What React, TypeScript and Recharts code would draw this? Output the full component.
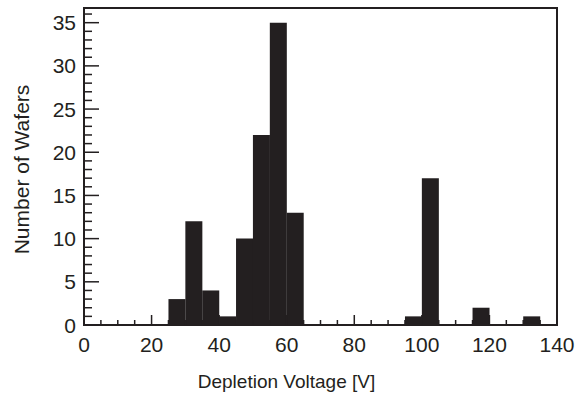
import React from 'react';
import { BarChart, Bar, XAxis, YAxis, ReferenceArea } from 'recharts';

// Histogram bins (lower edges, V) and counts of wafers
const binLowerEdges = [0, 5, 10, 15, 20, 25, 30, 35, 40, 45, 50, 55, 60, 65, 70, 75, 80, 85, 90, 95, 100, 105, 110, 115, 120, 125, 130, 135];
const binWidth = 5;
const wafers = [0, 0, 0, 0, 0, 3, 12, 4, 1, 10, 22, 35, 13, 0, 0, 0, 0, 0, 0, 1, 17, 0, 0, 2, 0, 0, 1, 0];

const xTicks = [0, 5, 10, 15, 20, 25, 30, 35, 40, 45, 50, 55, 60, 65, 70, 75, 80, 85, 90, 95, 100, 105, 110, 115, 120, 125, 130, 135, 140];
const xLabeled = [0, 20, 40, 60, 80, 100, 120, 140];
const yTicks = [0, 1, 2, 3, 4, 5, 6, 7, 8, 9, 10, 11, 12, 13, 14, 15, 16, 17, 18, 19, 20, 21, 22, 23, 24, 25, 26, 27, 28, 29, 30, 31, 32, 33, 34, 35, 36];
const yLabeled = [0, 5, 10, 15, 20, 25, 30, 35];

const xDomain: [number, number] = [0, 140];
const yDomain: [number, number] = [0, 36.7];

const data = binLowerEdges.map((lo, i) => ({ v: lo + binWidth / 2, n: wafers[i] }));

const INK = '#231f20';
const FONT = '"Liberation Sans", Arial, Helvetica, sans-serif';

const XTick = (props: any) => {
  const { x, y, payload } = props;
  const major = xLabeled.includes(payload.value);
  return (
    <g>
      <line x1={x} x2={x} y1={y} y2={y - (major ? 10 : 5)} stroke={INK} strokeWidth={1.5} />
      {major && (
        <text x={x} y={y + 27} textAnchor="middle" fontSize={21} fontFamily={FONT} fill={INK}>
          {payload.value}
        </text>
      )}
    </g>
  );
};

const YTick = (props: any) => {
  const { x, y, payload } = props;
  const major = yLabeled.includes(payload.value);
  return (
    <g>
      <line x1={x} x2={x + (major ? 15 : 8)} y1={y} y2={y} stroke={INK} strokeWidth={1.5} />
      {major && (
        <text x={x - 8} y={y + 7.5} textAnchor="end" fontSize={21} fontFamily={FONT} fill={INK}>
          {payload.value}
        </text>
      )}
    </g>
  );
};

export default function App() {
  return (
    <div style={{ position: 'absolute', left: 0, top: 0, background: '#fff' }}>
      <BarChart
        width={586}
        height={396}
        data={data}
        margin={{ top: 8, right: 29, bottom: 0, left: 0 }}
        barCategoryGap={0}
        barGap={0}
      >
        <XAxis
          type="number"
          dataKey="v"
          domain={xDomain}
          ticks={xTicks}
          interval={0}
          allowDataOverflow
          height={71}
          tickSize={0}
          tickMargin={0}
          tickLine={false}
          tick={<XTick />}
          axisLine={{ stroke: INK, strokeWidth: 2 }}
          label={{ value: 'Depletion Voltage [V]', position: 'insideBottom', offset: 8, dx: -34, fontSize: 19, fontFamily: FONT, fill: INK }}
        />
        <YAxis
          type="number"
          domain={yDomain}
          ticks={yTicks}
          interval={0}
          allowDataOverflow
          width={84}
          tickSize={0}
          tickMargin={0}
          tickLine={false}
          tick={<YTick />}
          axisLine={{ stroke: INK, strokeWidth: 2 }}
          label={{ value: 'Number of Wafers', angle: -90, position: 'center', dx: -20, dy: 3, fontSize: 21, fontFamily: FONT, fill: INK }}
        />
        <Bar dataKey="n" fill={INK} isAnimationActive={false} />
        <ReferenceArea x1={0} x2={140} y1={0} y2={36.7} fill="none" stroke={INK} strokeWidth={2} ifOverflow="visible" />
      </BarChart>
    </div>
  );
}
